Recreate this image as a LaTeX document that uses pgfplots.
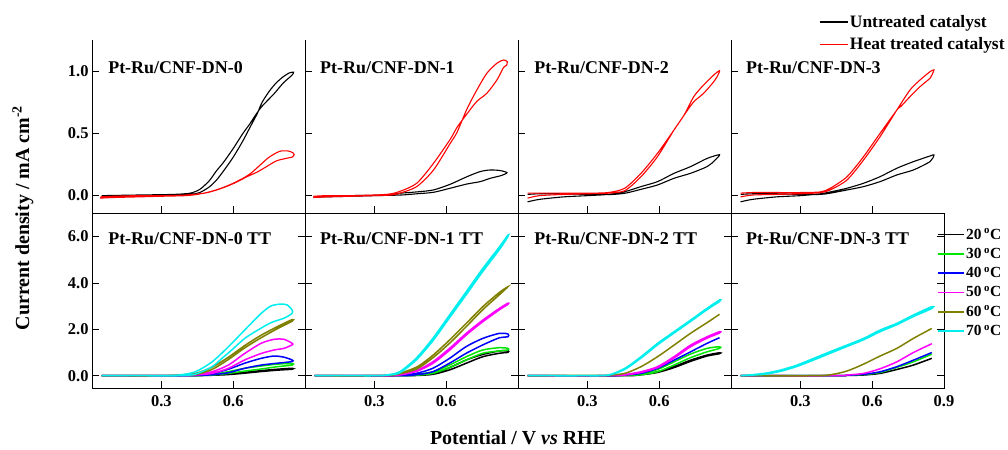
\documentclass[border=0pt]{standalone}
\usepackage{fontspec}
\setmainfont{Liberation Serif}
\usepackage{pgfplots}
\pgfplotsset{compat=1.18}
\definecolor{cgreen}{RGB}{0,230,0}
\definecolor{colive}{RGB}{128,128,0}
\definecolor{ccyan}{RGB}{0,238,238}
\definecolor{cmag}{RGB}{255,0,255}
\definecolor{cblue}{RGB}{0,0,255}
\definecolor{cred}{RGB}{255,0,0}
\tikzset{ttl/.style={anchor=west, font=\fontsize{18}{20}\selectfont\bfseries}}
\pgfplotsset{
 base/.style={scale only axis, width=213bp, xmin=0.01, xmax=0.9,
   tick align=inside, major tick length=7bp,
   axis line style={line width=1bp, -},
   every tick/.style={line width=0.9bp, black},
   tick label style={font=\fontsize{16.5}{18}\selectfont\bfseries},
   /pgf/number format/fixed, /pgf/number format/fixed zerofill,
   /pgf/number format/precision=1, /pgf/number format/assume math mode=true},
 toprow/.style={base, height=173bp, ymin=-0.14, ymax=1.255, ytick={0,0.5,1},
   xtick={0.3,0.6}, xticklabel=\empty, axis x line*=bottom, axis y line*=left,
   xtick pos=left, ytick pos=left,
   every axis plot/.append style={line width=1.1bp, smooth, tension=0.45}},
 botrow/.style={base, height=175bp, ymin=-0.53, ymax=7.02, ytick={0,2,4,6},
   xtick={0.3,0.6}, ytick pos=both, xtick pos=left, xticklabel shift=4bp,
   every axis plot/.append style={line width=1.5bp, smooth, tension=0.45}},
}
\begin{document}
\begin{tikzpicture}
\useasboundingbox (0,0) rectangle (1008bp,-450bp);
% ---------------- top row ----------------
\begin{axis}[toprow, at={(92bp,-40bp)}, anchor=north west]
\addplot[black] coordinates {(0.05,-0.005)(0.2,0.0)(0.35,0.005)(0.42,0.01)(0.46,0.025)(0.5,0.07)(0.53,0.125)(0.56,0.2)(0.6,0.31)(0.64,0.44)(0.67,0.55)(0.7,0.66)(0.72,0.75)(0.75,0.84)(0.78,0.91)(0.81,0.96)(0.835,0.99)(0.852,0.995)
(0.845,0.97)(0.81,0.91)(0.77,0.82)(0.72,0.72)(0.69,0.64)(0.67,0.58)(0.64,0.5)(0.6,0.38)(0.56,0.27)(0.53,0.2)(0.5,0.12)(0.46,0.05)(0.42,0.02)(0.35,0.01)(0.2,0.005)(0.05,0.0)};
\addplot[cred] coordinates {(0.043,-0.02)(0.1,-0.015)(0.2,-0.01)(0.3,-0.005)(0.4,0.0)(0.45,0.01)(0.5,0.03)(0.55,0.06)(0.6,0.1)(0.65,0.15)(0.68,0.19)(0.72,0.26)(0.75,0.31)(0.78,0.345)(0.80,0.36)(0.83,0.36)(0.85,0.345)(0.855,0.33)
(0.848,0.312)(0.82,0.30)(0.78,0.28)(0.74,0.235)(0.70,0.19)(0.66,0.155)(0.62,0.115)(0.58,0.08)(0.53,0.045)(0.48,0.02)(0.4,0.005)(0.3,0.0)(0.2,0.0)(0.1,-0.005)(0.045,-0.01)};
\node[ttl] at (rel axis cs:0.06,0.842) {Pt-Ru/CNF-DN-0};
\end{axis}
\begin{axis}[toprow, at={(305bp,-40bp)}, anchor=north west, yticklabel=\empty]
\addplot[black] coordinates {(0.045,-0.01)(0.2,0.0)(0.35,0.005)(0.41,0.02)(0.477,0.03)(0.547,0.046)(0.617,0.092)(0.687,0.153)(0.742,0.194)(0.784,0.207)(0.826,0.202)(0.854,0.185)
(0.83,0.162)(0.784,0.14)(0.742,0.113)(0.687,0.094)(0.617,0.06)(0.547,0.027)(0.477,0.015)(0.41,0.005)(0.3,0.0)(0.2,-0.005)(0.045,-0.012)};
\addplot[cred] coordinates {(0.045,-0.015)(0.1,-0.01)(0.2,-0.005)(0.3,0.0)(0.37,0.005)(0.407,0.02)(0.477,0.073)(0.547,0.207)(0.617,0.422)(0.645,0.51)(0.687,0.70)(0.728,0.852)(0.770,0.987)(0.812,1.068)(0.840,1.094)(0.855,1.08)
(0.852,1.05)(0.840,1.035)(0.812,0.933)(0.770,0.826)(0.728,0.76)(0.687,0.66)(0.645,0.55)(0.617,0.455)(0.547,0.261)(0.477,0.1)(0.407,0.035)(0.35,0.01)(0.2,0.0)(0.1,0.0)(0.045,-0.005)};
\node[ttl] at (rel axis cs:0.055,0.842) {Pt-Ru/CNF-DN-1};
\end{axis}
\begin{axis}[toprow, at={(518bp,-40bp)}, anchor=north west, yticklabel=\empty]
\addplot[black] coordinates {(0.05,-0.05)(0.1,-0.03)(0.2,-0.01)(0.3,0.0)(0.387,0.01)(0.456,0.032)(0.524,0.073)(0.593,0.113)(0.662,0.18)(0.731,0.234)(0.80,0.30)(0.852,0.33)
(0.83,0.28)(0.80,0.234)(0.731,0.18)(0.662,0.14)(0.593,0.086)(0.524,0.051)(0.456,0.019)(0.387,0.008)(0.3,0.01)(0.2,0.015)(0.1,0.015)(0.05,0.01)};
\addplot[cred] coordinates {(0.05,-0.02)(0.1,0.0)(0.2,0.01)(0.3,0.015)(0.387,0.02)(0.456,0.04)(0.524,0.153)(0.593,0.315)(0.662,0.53)(0.704,0.65)(0.745,0.80)(0.786,0.893)(0.828,0.973)(0.852,1.008)
(0.845,0.97)(0.828,0.919)(0.786,0.826)(0.745,0.758)(0.715,0.68)(0.662,0.53)(0.593,0.342)(0.524,0.18)(0.456,0.06)(0.387,0.025)(0.3,0.02)(0.2,0.02)(0.1,0.02)(0.05,0.02)};
\node[ttl] at (rel axis cs:0.06,0.842) {Pt-Ru/CNF-DN-2};
\end{axis}
\begin{axis}[toprow, at={(731bp,-40bp)}, anchor=north west, yticklabel=\empty,
  legend style={at={(0.412,1.152)}, anchor=north west, draw=none, fill=none,
    font=\fontsize{17.5}{21}\selectfont\bfseries, inner sep=0pt, row sep=5.8bp,
    nodes={inner sep=1.5bp}},
  legend cell align=left,
  legend image code/.code={\draw[#1] (0bp,0bp) -- (28bp,0bp);}]
\addlegendimage{black, line width=1.5bp}
\addlegendimage{cred, line width=1.5bp}
\addplot[black] coordinates {(0.05,-0.05)(0.1,-0.03)(0.2,-0.01)(0.3,0.0)(0.383,0.015)(0.425,0.03)(0.495,0.06)(0.564,0.1)(0.633,0.153)(0.703,0.221)(0.772,0.274)(0.842,0.32)(0.858,0.328)
(0.842,0.275)(0.772,0.207)(0.703,0.167)(0.633,0.113)(0.564,0.073)(0.495,0.046)(0.425,0.02)(0.383,0.01)(0.3,0.01)(0.2,0.015)(0.1,0.015)(0.05,0.01)};
\addplot[cred] coordinates {(0.05,-0.01)(0.1,0.005)(0.2,0.01)(0.3,0.015)(0.383,0.024)(0.425,0.046)(0.495,0.127)(0.564,0.288)(0.633,0.476)(0.703,0.691)(0.758,0.852)(0.80,0.933)(0.842,1.0)(0.858,1.014)
(0.85,0.975)(0.842,0.947)(0.80,0.879)(0.758,0.798)(0.72,0.72)(0.703,0.69)(0.633,0.503)(0.564,0.315)(0.495,0.153)(0.425,0.06)(0.383,0.03)(0.3,0.025)(0.2,0.025)(0.1,0.025)(0.05,0.02)};
\legend{Untreated catalyst, Heat treated catalyst}
\node[ttl] at (rel axis cs:0.055,0.842) {Pt-Ru/CNF-DN-3};
\end{axis}
% ---------------- bottom row ----------------
\begin{axis}[botrow, at={(92bp,-213bp)}, anchor=north west]
\addplot[black] coordinates {(0.05,0)(0.3,0)(0.4,0.0)(0.512,0.03)(0.58,0.07)(0.648,0.145)(0.717,0.22)(0.785,0.28)(0.846,0.32)(0.846,0.28)(0.785,0.24)(0.717,0.18)(0.648,0.11)(0.58,0.05)(0.512,0.02)(0.4,0)(0.05,0)};
\addplot[cgreen] coordinates {(0.05,0)(0.3,0)(0.4,0.01)(0.512,0.06)(0.58,0.175)(0.648,0.32)(0.717,0.42)(0.785,0.50)(0.846,0.53)(0.846,0.46)(0.785,0.39)(0.717,0.29)(0.648,0.2)(0.58,0.10)(0.512,0.03)(0.4,0.0)(0.05,0)};
\addplot[cblue] coordinates {(0.05,0)(0.3,0)(0.4,0.01)(0.512,0.1)(0.58,0.28)(0.648,0.54)(0.717,0.75)(0.771,0.85)(0.812,0.80)(0.846,0.68)(0.846,0.61)(0.785,0.54)(0.717,0.46)(0.648,0.32)(0.58,0.13)(0.512,0.04)(0.4,0.0)(0.05,0)};
\addplot[cmag] coordinates {(0.05,0)(0.3,0)(0.375,0.01)(0.443,0.06)(0.512,0.175)(0.58,0.46)(0.648,0.96)(0.717,1.40)(0.771,1.57)(0.812,1.57)(0.846,1.40)(0.846,1.33)(0.812,1.18)(0.771,1.11)(0.717,0.96)(0.648,0.68)(0.58,0.32)(0.512,0.10)(0.443,0.03)(0.375,0.0)(0.05,0)};
\addplot[colive] coordinates {(0.05,0)(0.3,0)(0.375,0.02)(0.443,0.05)(0.512,0.27)(0.58,0.7)(0.648,1.2)(0.717,1.64)(0.785,2.03)(0.846,2.35)(0.846,2.42)(0.785,2.12)(0.717,1.75)(0.648,1.3)(0.58,0.8)(0.512,0.37)(0.443,0.1)(0.375,0.03)(0.3,0.0)(0.05,0.0)};
\addplot[ccyan] coordinates {(0.05,0)(0.2,0)(0.3,0.0)(0.375,0.03)(0.443,0.175)(0.512,0.6)(0.58,1.25)(0.648,1.97)(0.717,2.69)(0.758,3.01)(0.799,3.09)(0.826,3.05)(0.846,2.83)(0.846,2.69)(0.812,2.48)(0.758,2.29)(0.703,1.97)(0.648,1.61)(0.594,1.11)(0.553,0.75)(0.512,0.39)(0.443,0.07)(0.375,0.0)(0.2,0)(0.05,0)};
\node[ttl] at (rel axis cs:0.06,0.855) {Pt-Ru/CNF-DN-0 TT};
\end{axis}
\begin{axis}[botrow, at={(305bp,-213bp)}, anchor=north west, yticklabel=\empty]
\addplot[black] coordinates {(0.05,0)(0.3,0)(0.4,0.0)(0.474,0.03)(0.544,0.1)(0.614,0.35)(0.684,0.68)(0.753,0.92)(0.823,1.07)(0.858,1.08)(0.858,1.01)(0.823,0.97)(0.753,0.82)(0.684,0.54)(0.614,0.25)(0.544,0.06)(0.474,0.01)(0.4,0)(0.05,0)};
\addplot[cgreen] coordinates {(0.05,0)(0.3,0)(0.4,0.01)(0.474,0.06)(0.544,0.17)(0.614,0.46)(0.684,0.82)(0.753,1.11)(0.823,1.21)(0.858,1.18)(0.858,1.11)(0.823,1.07)(0.753,0.97)(0.684,0.68)(0.614,0.35)(0.544,0.1)(0.474,0.02)(0.4,0)(0.05,0)};
\addplot[cblue] coordinates {(0.05,0)(0.3,0)(0.4,0.02)(0.474,0.1)(0.544,0.32)(0.614,0.75)(0.684,1.26)(0.753,1.61)(0.823,1.83)(0.858,1.8)(0.858,1.68)(0.823,1.64)(0.753,1.33)(0.684,0.97)(0.614,0.54)(0.544,0.17)(0.474,0.04)(0.4,0.0)(0.05,0)};
\addplot[cmag] coordinates {(0.05,0)(0.3,0)(0.39,0.02)(0.474,0.22)(0.544,0.6)(0.614,1.18)(0.684,1.83)(0.753,2.4)(0.823,2.91)(0.858,3.13)(0.858,3.08)(0.823,2.85)(0.753,2.33)(0.684,1.76)(0.614,1.1)(0.544,0.53)(0.474,0.18)(0.39,0.01)(0.3,0)(0.05,0)};
\addplot[colive] coordinates {(0.05,0)(0.3,0)(0.38,0.03)(0.474,0.28)(0.544,0.77)(0.614,1.4)(0.684,2.12)(0.753,2.85)(0.823,3.5)(0.858,3.84)(0.823,3.6)(0.753,2.98)(0.684,2.26)(0.614,1.54)(0.544,0.88)(0.474,0.36)(0.38,0.04)(0.3,0)(0.05,0)};
\addplot[ccyan] coordinates {(0.05,0)(0.2,0)(0.3,0.0)(0.35,0.03)(0.405,0.17)(0.474,0.75)(0.544,1.61)(0.614,2.62)(0.684,3.63)(0.753,4.63)(0.823,5.57)(0.858,6.07)(0.858,6.0)(0.823,5.45)(0.753,4.5)(0.684,3.5)(0.614,2.5)(0.544,1.5)(0.474,0.67)(0.405,0.12)(0.35,0.02)(0.3,0)(0.05,0)};
\node[ttl] at (rel axis cs:0.055,0.855) {Pt-Ru/CNF-DN-1 TT};
\end{axis}
\begin{axis}[botrow, at={(518bp,-213bp)}, anchor=north west, yticklabel=\empty]
\addplot[black] coordinates {(0.05,0)(0.4,0)(0.456,0.01)(0.524,0.05)(0.593,0.17)(0.662,0.39)(0.731,0.67)(0.80,0.89)(0.852,0.99)(0.852,0.95)(0.80,0.85)(0.731,0.62)(0.662,0.35)(0.593,0.14)(0.524,0.04)(0.456,0.0)(0.05,0)};
\addplot[cgreen] coordinates {(0.05,0)(0.4,0)(0.456,0.02)(0.524,0.08)(0.593,0.27)(0.662,0.6)(0.731,0.935)(0.80,1.18)(0.852,1.25)(0.852,1.18)(0.80,1.03)(0.731,0.78)(0.662,0.46)(0.593,0.17)(0.524,0.04)(0.456,0.01)(0.4,0)(0.05,0)};
\addplot[cblue] coordinates {(0.05,0)(0.4,0)(0.456,0.03)(0.524,0.1)(0.593,0.317)(0.662,0.67)(0.731,1.03)(0.80,1.396)(0.852,1.64)};
\addplot[cmag] coordinates {(0.05,0)(0.4,0)(0.456,0.05)(0.524,0.17)(0.593,0.39)(0.662,0.82)(0.731,1.32)(0.80,1.68)(0.852,1.9)(0.852,1.84)(0.80,1.62)(0.731,1.25)(0.662,0.76)(0.593,0.35)(0.524,0.14)(0.456,0.03)(0.4,0)};
\addplot[colive] coordinates {(0.05,0)(0.35,0)(0.387,0.02)(0.456,0.1)(0.524,0.39)(0.593,0.82)(0.662,1.32)(0.731,1.83)(0.80,2.29)(0.852,2.65)};
\addplot[ccyan] coordinates {(0.05,0)(0.3,0)(0.387,0.03)(0.456,0.317)(0.524,0.82)(0.593,1.396)(0.662,1.9)(0.731,2.4)(0.80,2.91)(0.852,3.27)(0.852,3.2)(0.80,2.85)(0.731,2.34)(0.662,1.84)(0.593,1.33)(0.524,0.76)(0.456,0.27)(0.387,0.02)(0.3,0)};
\node[ttl] at (rel axis cs:0.06,0.855) {Pt-Ru/CNF-DN-2 TT};
\end{axis}
\begin{axis}[botrow, at={(731bp,-213bp)}, anchor=north west, yticklabel=\empty,
  xtick={0.3,0.6,0.9},
  legend style={at={(0.967,0.92)}, anchor=north west, draw=none, fill=none,
    font=\fontsize{15.5}{18}\selectfont\bfseries, inner sep=0pt, row sep=4.5bp,
    nodes={inner sep=1.5bp}},
  legend cell align=left,
  legend image code/.code={\draw[#1, line width=1.5bp, sharp plot] (0bp,0bp) -- (26bp,0bp);}]
\addplot[black] coordinates {(0.05,0)(0.45,0)(0.494,0.01)(0.564,0.03)(0.633,0.1)(0.703,0.27)(0.772,0.46)(0.849,0.75)};
\addlegendentry{20\,\textsuperscript{o}C}
\addplot[cgreen] coordinates {(0.05,0)(0.45,0)(0.494,0.02)(0.564,0.05)(0.633,0.14)(0.703,0.36)(0.772,0.6)(0.849,0.93)};
\addlegendentry{30\,\textsuperscript{o}C}
\addplot[cblue] coordinates {(0.05,0)(0.45,0)(0.494,0.02)(0.564,0.06)(0.633,0.17)(0.703,0.39)(0.772,0.67)(0.849,1.0)};
\addlegendentry{40\,\textsuperscript{o}C}
\addplot[cmag] coordinates {(0.05,0)(0.45,0)(0.494,0.03)(0.564,0.1)(0.633,0.3)(0.703,0.6)(0.772,1.0)(0.849,1.38)};
\addlegendentry{50\,\textsuperscript{o}C}
\addplot[colive] coordinates {(0.05,0)(0.36,0)(0.425,0.04)(0.494,0.2)(0.564,0.5)(0.633,0.85)(0.703,1.18)(0.772,1.61)(0.849,2.04)};
\addlegendentry{60\,\textsuperscript{o}C}
\addplot[ccyan] coordinates {(0.05,0)(0.147,0.1)(0.217,0.245)(0.286,0.46)(0.356,0.75)(0.425,1.04)(0.494,1.32)(0.564,1.61)(0.633,1.97)(0.703,2.26)(0.772,2.62)(0.849,2.98)(0.849,2.9)(0.772,2.55)(0.703,2.2)(0.633,1.9)(0.564,1.55)(0.494,1.26)(0.425,0.97)(0.356,0.68)(0.286,0.4)(0.217,0.19)(0.147,0.06)(0.05,0)};
\addlegendentry{70\,\textsuperscript{o}C}
\node[ttl] at (rel axis cs:0.055,0.855) {Pt-Ru/CNF-DN-3 TT};
\end{axis}
% ---------------- axis titles ----------------
\node[rotate=90, font=\fontsize{20}{22}\selectfont\bfseries] at (23bp,-218bp) {Current density / mA cm\textsuperscript{-2}};
\node[font=\fontsize{20}{22}\selectfont\bfseries] at (518bp,-438bp) {Potential / V \textit{vs} RHE};
\end{tikzpicture}
\end{document}
